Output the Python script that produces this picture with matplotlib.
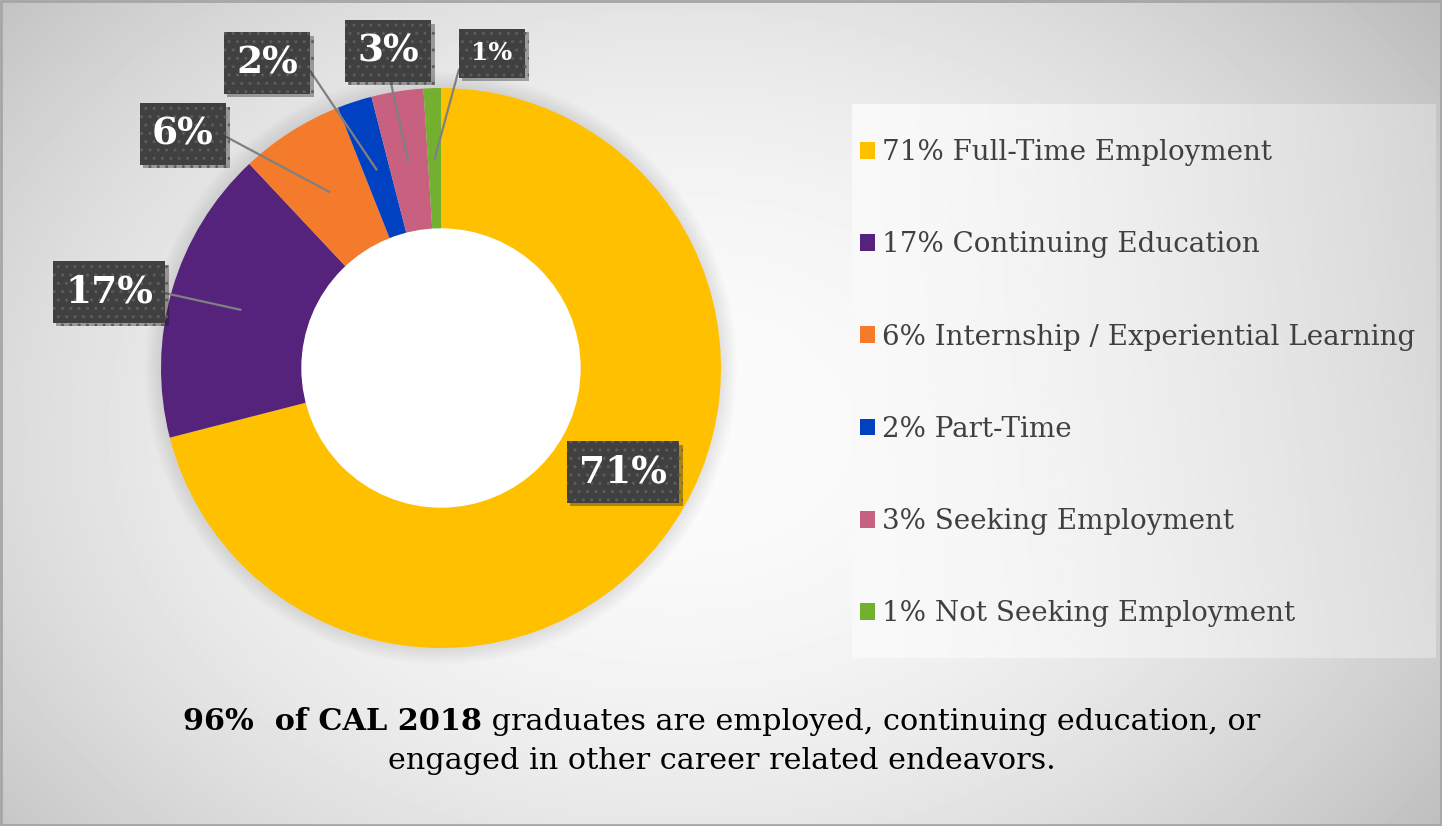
import numpy as np
import matplotlib.pyplot as plt
import matplotlib.patheffects as pe
from matplotlib.patches import Rectangle, Circle

# ---- data ----
categories = ['Full-Time Employment', 'Continuing Education',
              'Internship / Experiential Learning', 'Part-Time',
              'Seeking Employment', 'Not Seeking Employment']
shares = [71, 17, 6, 2, 3, 1]
colors = ['#FFC000', '#55237B', '#F47A2C', '#0041C2', '#C86080', '#74B030']
caption_bold = '96%  of CAL 2018'
caption_rest = ' graduates are employed, continuing education, or'
caption_line2 = 'engaged in other career related endeavors.'

# ---- layout (pixels, measured from top-left) ----
W, H = 1442, 826
cx, cy = 441, 368
R = 280
ring = 141
box_xy = [(623, 472), (109, 292), (183, 134), (267, 63), (388, 51), (492, 53)]
box_font = [27, 27, 27, 27, 27, 18]
box_pad = [0.33, 0.33, 0.33, 0.33, 0.33, 0.5]
# which side of the label box the leader line leaves from (None = no leader)
leader_side = [None, 'right', 'right', 'right', 'bottom', 'left']

plt.rcParams['font.family'] = ['DejaVu Serif']

fig = plt.figure(figsize=(W / 100, H / 100), dpi=100)
ax = fig.add_axes([0, 0, 1, 1])


def fy(y):
    return H - y


# background: soft radial gradient
xx, yy = np.meshgrid(np.arange(W), np.arange(H))
r2 = ((xx - 680) / 760) ** 2 + ((yy - 430) / 560) ** 2
bg = np.clip(0.985 - 0.16 * r2, 0, 1)
ax.imshow(bg, cmap='gray', vmin=0, vmax=1, extent=[0, W, 0, H],
          origin='upper', zorder=0, interpolation='bilinear')

# legend panel
lx0, lx1, ly0, ly1 = 852, 1436, 104, 658
gx = np.linspace(0, 1, 300)[None, :].repeat(100, axis=0)
gy = np.linspace(0, 1, 100)[:, None].repeat(300, axis=1)
panel = 0.975 - 0.11 * gx ** 1.6 - 0.03 * (1 - gy) * gx
ax.imshow(panel, cmap='gray', vmin=0, vmax=1,
          extent=[lx0, lx1, fy(ly1), fy(ly0)], origin='upper',
          zorder=1, interpolation='bilinear')

# soft halo behind the donut
for k in range(8):
    ax.add_patch(Circle((cx, fy(cy)), R + 2 + 2 * k, color='#808080',
                        alpha=0.025, lw=0, zorder=2))

# donut
wedges, _ = ax.pie(shares, colors=colors, radius=R, center=(cx, fy(cy)),
                   startangle=90, counterclock=False,
                   wedgeprops=dict(width=ring, edgecolor='none'))
for w in wedges:
    w.set_zorder(3)
ax.add_patch(Circle((cx, fy(cy)), R - ring, color='white', zorder=3))

# percentage labels in dark boxes
for w, v, (bx, by), fs, pad, side in zip(wedges, shares, box_xy, box_font,
                                         box_pad, leader_side):
    mid = np.deg2rad((w.theta1 + w.theta2) / 2)
    anchor = (cx + 0.745 * R * np.cos(mid), fy(cy) + 0.745 * R * np.sin(mid))
    bbox = dict(boxstyle=f'square,pad={pad}', facecolor='#404040',
                edgecolor='#5c5c5c', linewidth=0, hatch='..')
    if side is None:
        t = ax.text(bx, fy(by), f'{v}%', ha='center', va='center',
                    fontsize=fs, fontweight='bold', color='white',
                    bbox=bbox, zorder=6)
    else:
        relpos = {'right': (1, 0.5), 'left': (0, 0.5), 'bottom': (0.5, 0)}[side]
        conn = {'right': 'arc,angleA=0,armA=7,rad=0',
                'left': 'arc,angleA=180,armA=8,rad=0',
                'bottom': 'arc3,rad=0'}[side]
        t = ax.annotate(f'{v}%', xy=anchor, xytext=(bx, fy(by)),
                        textcoords='data', ha='center', va='center',
                        fontsize=fs, fontweight='bold', color='white',
                        bbox=bbox, zorder=6,
                        arrowprops=dict(arrowstyle='-', color='#808080',
                                        lw=1.6, relpos=relpos,
                                        shrinkA=0, shrinkB=0,
                                        connectionstyle=conn))
    t.get_bbox_patch().set_path_effects(
        [pe.SimplePatchShadow(offset=(2.5, -2.5), alpha=0.35), pe.Normal()])

# legend
labels = [f'{v}% {c}' for v, c in zip(shares, categories)]
leg = ax.legend(wedges, labels, loc='upper left',
                bbox_to_anchor=(860 / W, fy(139) / H),
                bbox_transform=fig.transFigure, frameon=False,
                fontsize=20, labelcolor='#404040',
                handlelength=0.55, handleheight=0.55, handletextpad=0.25,
                labelspacing=2.35, borderpad=0, borderaxespad=0)
leg.set_zorder(5)

# caption: bold start + regular rest, centred as one line
cap_fs = 21.8
t1 = ax.text(0, fy(722), caption_bold, fontsize=cap_fs, fontweight='bold',
             va='center', ha='left', color='black', zorder=5)
t2 = ax.text(0, fy(722), caption_rest, fontsize=cap_fs,
             va='center', ha='left', color='black', zorder=5)
fig.canvas.draw()
rend = fig.canvas.get_renderer()
w1 = t1.get_window_extent(rend).width
w2 = t2.get_window_extent(rend).width
x0 = 722 - (w1 + w2) / 2
t1.set_x(x0)
t2.set_x(x0 + w1)
ax.text(722, fy(761), caption_line2, fontsize=cap_fs, va='center',
        ha='center', color='black', zorder=5)

# frame around the slide
ax.add_patch(Rectangle((1, 1), W - 2, H - 2, fill=False,
                       edgecolor='#a6a6a6', lw=2, zorder=7))

ax.set_xlim(0, W)
ax.set_ylim(0, H)
ax.set_aspect('auto')
ax.axis('off')

fig.savefig('out.png', dpi=100)
